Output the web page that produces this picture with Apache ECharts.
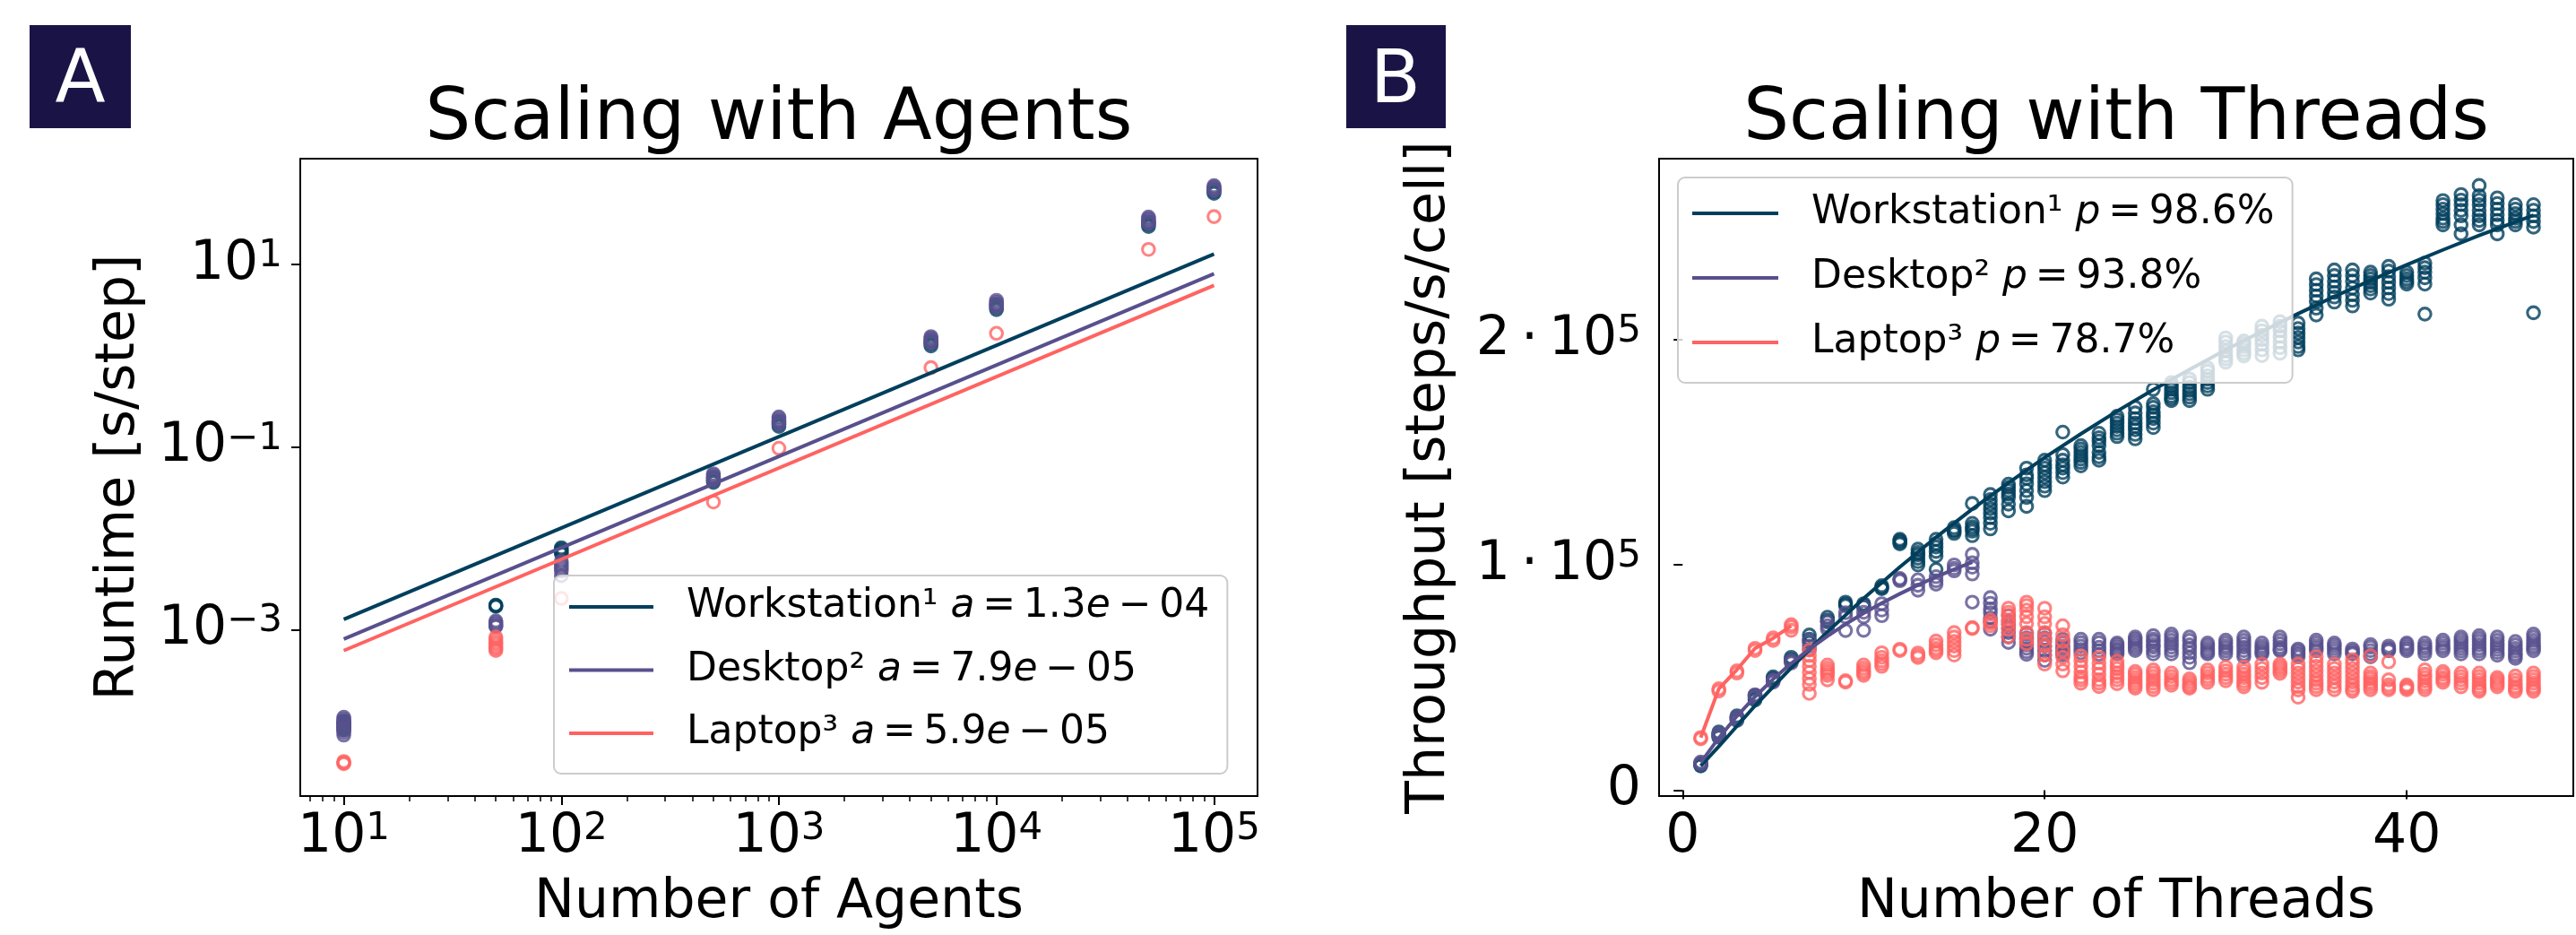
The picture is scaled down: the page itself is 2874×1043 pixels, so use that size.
<!DOCTYPE html>
<html><head><meta charset="utf-8">
<script src="https://cdn.jsdelivr.net/npm/echarts@6/dist/echarts.min.js"></script>
<style>html,body{margin:0;padding:0;background:#fff}#c{width:2874px;height:1043px}</style>
</head><body><div id="c"></div>
<script>
const FONT = "'DejaVu Sans', sans-serif";
const C_WS = '#003f5c', C_DT = '#58508d', C_LT = '#ff6361';

// ---------- Panel A: Scaling with Agents ----------
const agentCounts = [10, 50, 100, 500, 1000, 5000, 10000, 50000, 100000];
const runtimeWorkstation = [
  [1.0e-4, 9.5e-5, 9.0e-5, 8.5e-5, 8.0e-5], [1.86e-3, 1.83e-3, 1.8e-3], [7.9e-3, 7.6e-3, 7.3e-3, 7.0e-3, 6.8e-3],
  [0.046, 0.043, 0.041], [0.19, 0.178, 0.168], [1.45, 1.36, 1.28], [3.6, 3.4, 3.2], [29, 27.5, 26], [66, 63, 60]
];
const runtimeDesktop = [
  [1.1e-4, 1.05e-4, 1.0e-4, 9.5e-5, 9.0e-5, 8.5e-5, 8.0e-5, 7.5e-5, 7.0e-5], [1.25e-3, 1.2e-3, 1.15e-3, 1.1e-3, 1.08e-3],
  [5.6e-3, 5.3e-3, 5.0e-3, 4.7e-3, 4.4e-3, 3.9e-3], [0.051, 0.049, 0.047, 0.045, 0.043], [0.214, 0.205, 0.195, 0.186, 0.178],
  [1.62, 1.56, 1.5, 1.44, 1.38], [4.05, 3.85, 3.7, 3.55, 3.4], [33, 31.7, 30.5, 29.2, 28], [73, 70.5, 68, 66, 64]
];
const runtimeLaptop = [
  [3.6e-5, 3.5e-5, 3.4e-5], [8.3e-4, 7.8e-4, 7.3e-4, 6.9e-4, 6.5e-4, 6.2e-4, 5.9e-4], [2.2e-3], [0.025], [0.097],
  [0.74], [1.76], [14.6], [33.4]
];
const fitAgents = [10, 100000];
const fitRuntimeWorkstation = [0.0013, 13];
const fitRuntimeDesktop = [0.00079, 7.9];
const fitRuntimeLaptop = [0.00059, 5.9];
const agentMajorTicks = [10, 100, 1000, 10000, 100000];
const agentMinorTicks = [7, 8, 9, 20, 30, 40, 50, 60, 70, 80, 90, 200, 300, 400, 500, 600, 700, 800, 900,
  2000, 3000, 4000, 5000, 6000, 7000, 8000, 9000, 20000, 30000, 40000, 50000, 60000, 70000, 80000, 90000];
const runtimeTicks = [0.001, 0.1, 10];
const legendA = {
  'WS_A': 'Workstation¹ {i|a}\u2009=\u20091.3{i|e}\u2009−\u200904',
  'DT_A': 'Desktop² {i|a}\u2009=\u20097.9{i|e}\u2009−\u200905',
  'LT_A': 'Laptop³ {i|a}\u2009=\u20095.9{i|e}\u2009−\u200905'
};

// ---------- Panel B: Scaling with Threads ----------
const threadCounts = [1,2,3,4,5,6,7,8,9,10,11,12,13,14,15,16,17,18,19,20,21,22,23,24,25,26,27,28,29,30,
  31,32,33,34,35,36,37,38,39,40,41,42,43,44,45,46,47];
const throughputWorkstation = [
  [11800, 11200, 10800], [25800, 24500, 23500], [33000, 32000, 31000], [42000, 41000, 40000],
  [50300, 49500, 49000], [59000, 58000, 57500], [68900, 67000, 65600], [76800, 75500, 74800],
  [83500, 82700, 82000], [82800, 82000, 81500], [90800, 90000, 89500],
  [111400, 110800, 110000, 109400],
  [107000, 105500, 104500, 103000, 101500, 100000],
  [111400, 109500, 108000, 106000, 104000, 98000],
  [116600, 115500, 115000, 114000],
  [127300, 118500, 117000, 116000, 115000, 113000],
  [131300, 129000, 127000, 125000, 123000, 121000, 118500, 116000],
  [135900, 134500, 133000, 131500, 130000, 127000, 124000],
  [143000, 140000, 138500, 136000, 133000, 130000, 126000],
  [146500, 144500, 143000, 141000, 139000, 137000, 135000, 133000],
  [159000, 149000, 146500, 144500, 143000, 141000, 139000],
  [153000, 151500, 150000, 148500, 147000, 145500, 144000],
  [158500, 156500, 155000, 153000, 150000, 148000, 146500],
  [166000, 164500, 163000, 161500, 160000, 158500, 157000],
  [170000, 167500, 165000, 163000, 161500, 160000, 158000, 156000],
  [178000, 171600, 170000, 168000, 166500, 165000, 163000, 161000],
  [181000, 179500, 178000, 176500, 175000, 174000, 173000],
  [182600, 181000, 179000, 177500, 176000, 174500, 173000],
  [187500, 186000, 184000, 182500, 181000, 179500, 178000],
  [200800, 199000, 197000, 195000, 193000, 191500, 190000],
  [199500, 198300, 197000, 195500, 194000, 192800],
  [206000, 204000, 202000, 200000, 198000, 195500, 193000],
  [208000, 206000, 204000, 201500, 199000, 196500, 194000],
  [207400, 205000, 203000, 201000, 199000, 197000, 195500],
  [227000, 224500, 222000, 219500, 217000, 214000, 211000],
  [231000, 228500, 226000, 223500, 221000, 219000, 216700],
  [231000, 228500, 226000, 223000, 220000, 217500, 215000],
  [230000, 228500, 227000, 225500, 224000, 222500, 220700],
  [232600, 230500, 228000, 225500, 223000, 220500, 218000],
  [230000, 228500, 227000, 225800, 224700],
  [234000, 232000, 230000, 227500, 224700, 211400],
  [261800, 260000, 258000, 256000, 254000, 252500, 251000],
  [264500, 262000, 260000, 257500, 255000, 251000, 247000],
  [268500, 264000, 262000, 260000, 257500, 255000, 253000, 251000],
  [263000, 260500, 258000, 255500, 253000, 251000, 247000],
  [260000, 258000, 256000, 254000, 252500, 251000],
  [260000, 257500, 255000, 252500, 250000, 212000]
];
const throughputDesktop = [
  [12500, 12000, 11500], [25000, 24500, 24000], [32400, 32000, 31500], [42400, 42000, 41500], [49000, 48500, 48000],
  [57600, 57000, 56500], [66500, 64000, 62500], [74800, 73000, 71500], [78800, 77000, 70900],
  [81500, 79000, 77000, 71000], [82800, 80000, 77500], [94000, 93500, 93000], [93400, 91000, 88800],
  [94800, 93000, 91500], [100000, 98500, 97400], [104700, 101000, 99000, 96000, 83500],
  [85500, 83000, 80500, 78800, 76500, 74900, 71500],
  [77500, 75000, 73500, 72000, 70000, 68000, 65600],
  [69600, 67500, 66000, 64500, 63000, 61500, 60300],
  [69600, 67500, 66000, 64000, 62000, 60000, 57600],
  [67000, 65500, 64000, 63000, 62000, 61000, 60000],
  [67000, 65500, 64000, 62500, 61000],
  [67000, 65500, 63500, 62000, 60300],
  [65300, 64500, 63500, 62500, 62000, 61000, 60500],
  [68000, 67000, 66000, 65000, 64000, 63000, 62000],
  [68600, 67000, 66000, 64500, 63500, 62000, 60500],
  [69300, 68000, 66500, 65000, 63500, 62000, 60500],
  [68000, 66500, 64500, 63000, 61000, 59000, 56600],
  [65300, 64200, 63000, 62000, 61200, 60500],
  [66600, 65300, 64000, 63000, 61800, 60500],
  [68000, 66500, 65000, 63500, 62000, 60500, 59200],
  [65300, 64000, 63000, 62000, 61200, 60500],
  [68000, 66500, 65000, 63500, 62500, 61900],
  [62700, 62000, 61000, 60200, 59200],
  [66600, 65300, 64000, 63000, 61900],
  [65300, 64200, 63000, 61800, 60500],
  [62700, 61800, 61000, 60500],
  [64600, 63500, 62000, 60500, 59200],
  [64000, 63000, 62500, 61900],
  [65300, 64500, 63500, 62700, 61900],
  [65300, 64000, 63000, 61800, 60500],
  [66600, 65300, 64000, 63000, 61900],
  [68000, 66800, 65500, 64200, 63000, 61800, 60500],
  [68600, 67300, 66000, 64500, 63000, 61800, 60500],
  [68000, 66500, 65000, 63800, 62500, 61200, 59900],
  [66000, 64500, 63000, 61800, 60500, 59500, 58500],
  [69300, 68000, 66500, 65200, 64000, 63000, 61900]
];
const throughputLaptop = [
  [23400, 22800], [45000, 44000], [53000, 52000], [63000, 62000], [67600, 66500],
  [73500, 72500, 71000],
  [62200, 59800, 57600, 55000, 52300, 49500, 47000, 43000],
  [55600, 54200, 53000, 52000, 51000, 49000],
  [48600, 48000],
  [55600, 54200, 53000, 52000, 51000],
  [61000, 59000, 57500, 56200, 55000],
  [62600, 62000],
  [60900, 59800, 58900],
  [66200, 64500, 63000, 62000, 61000],
  [70000, 68000, 66000, 64000, 62000, 60000],
  [72200, 71800],
  [75500, 74200, 73000],
  [80800, 79000, 77500, 75500, 74000, 71500, 68200],
  [83500, 82000, 80000, 77000, 74000, 70000, 67000, 65000],
  [80800, 77000, 74000, 70000, 67000, 64000, 60000, 56000],
  [73000, 69000, 66000, 62000, 59000, 56000, 53000],
  [59600, 57500, 55000, 52500, 50300, 49000, 47500],
  [59000, 56500, 54000, 51500, 49000, 47500, 46000],
  [57300, 55500, 54000, 52000, 50500, 49000, 47300],
  [52700, 51500, 50000, 48700, 47500, 46300, 45300],
  [53400, 52000, 50500, 49000, 47500, 46000, 44600],
  [52000, 50500, 49000, 47800, 46600],
  [49400, 48200, 47000, 46000, 45300],
  [53400, 52000, 50500, 49200, 47900],
  [54700, 53000, 51500, 50000, 48600],
  [54700, 53000, 51500, 50000, 48500, 47200, 45900],
  [56000, 54000, 52000, 50000, 47900],
  [56000, 55000, 54000, 53000, 51900],
  [56000, 54000, 52000, 50000, 48000, 46000, 44500, 41300],
  [59300, 57000, 55000, 53000, 51000, 49000, 47500, 46000, 44600],
  [56000, 54000, 52000, 50000, 48000, 46200, 44600],
  [58000, 56000, 54000, 52000, 50000, 48000, 46500, 45000, 43900],
  [59600, 52000, 50500, 49400, 48000, 47000, 45800, 44600],
  [57000, 49000, 46700, 45500, 44600],
  [46700, 46000, 45300, 44600],
  [53400, 51500, 50000, 48500, 47000, 45800, 44600],
  [52700, 51500, 50000, 49000, 47900],
  [52000, 50500, 49000, 47500, 45900],
  [52000, 50500, 49000, 47500, 46000, 44800, 43900],
  [50000, 49000, 47900, 47000, 45900],
  [50700, 49000, 47500, 46000, 45000, 43900],
  [52000, 50500, 49000, 47500, 46000, 45000, 43900]
];
const fitThreadsWorkstation = [1, 2, 4, 6, 8, 10, 12, 14, 16, 18, 20, 22, 24, 26, 28, 30, 32, 34, 36, 38, 40, 42, 44, 47];
const fitThroughputWorkstation = [10800, 19400, 37500, 54400, 70300, 85200, 99100, 112300, 124800, 136500, 147700,
  158200, 168300, 177800, 186800, 195500, 203700, 211600, 219200, 226300, 233300, 239900, 246300, 255300];
const fitThreadsDesktop = [1, 2, 3, 4, 5, 6, 7, 8, 9, 10, 11, 12, 13, 14, 15, 16];
const fitThroughputDesktop = [12300, 23200, 32900, 41500, 49300, 56300, 62600, 68400, 73700, 78600, 83100,
  87200, 91100, 94700, 98100, 101200];
const fitThreadsLaptop = [1, 2, 3, 4, 5, 6];
const fitThroughputLaptop = [23400, 45000, 53500, 63000, 67500, 73000];
const throughputTicks = [0, 100000, 200000];
const threadTicks = [0, 20, 40];
const legendB = {
  'WS_B': 'Workstation¹ {i|p}\u2009=\u200998.6%',
  'DT_B': 'Desktop² {i|p}\u2009=\u200993.8%',
  'LT_B': 'Laptop³ {i|p}\u2009=\u200978.7%'
};

// ---------- helpers ----------
function runsToPoints(xs, runs) {
  const pts = [];
  xs.forEach((x, i) => runs[i].forEach(v => pts.push([x, v])));
  return pts;
}
function pairs(xs, ys) { return xs.map((x, i) => [x, ys[i]]); }
function scatter(name, xi, yi, data, color) {
  return { type: 'scatter', name, xAxisIndex: xi, yAxisIndex: yi, data, symbol: 'circle', symbolSize: 13.5,
    itemStyle: { color: 'rgba(0,0,0,0)', borderColor: color, borderWidth: 3.1 }, z: 2, silent: true };
}
function line(name, xi, yi, data, color) {
  return { type: 'line', name, xAxisIndex: xi, yAxisIndex: yi, data, symbol: 'none', color,
    itemStyle: { color }, lineStyle: { color, width: 4 }, z: 3, silent: true };
}
const supRich = {
  b: { fontFamily: FONT, fontSize: 60, lineHeight: 60, color: '#000' },
  s: { fontFamily: FONT, fontSize: 42, lineHeight: 25, verticalAlign: 'top', color: '#000' }
};
const nameStyle = { fontFamily: FONT, fontSize: 60, color: '#000', lineHeight: 60 };
const tickLine = { color: '#000', width: 2 };
function powLabel(v) {
  const e = Math.round(Math.log10(v));
  return '{b|10}{s|' + (e < 0 ? '−' + (-e) : String(e)) + '}';
}
function sciLabel(v) {
  if (v === 0) return '{b|0}';
  const m = Math.round(v / 100000);
  return '{b|' + m + '\u2009·\u200910}{s|5}';
}
const legendText = { fontFamily: FONT, fontSize: 44, color: '#000', lineHeight: 52,
  rich: { i: { fontFamily: FONT, fontSize: 44, fontStyle: 'italic', color: '#000', lineHeight: 52 },
          g: { width: 32 } } };
function legendItems(names) { return names.map(n => ({ name: n, icon: 'rect' })); }

const option = {
  animation: false,
  backgroundColor: '#fff',
  title: [
    { text: 'Scaling with Agents', left: 869, top: 94, textAlign: 'center', padding: 0,
      textStyle: { fontFamily: FONT, fontSize: 80, fontWeight: 'normal', color: '#000', lineHeight: 80 } },
    { text: 'Scaling with Threads', left: 2361, top: 94, textAlign: 'center', padding: 0,
      textStyle: { fontFamily: FONT, fontSize: 80, fontWeight: 'normal', color: '#000', lineHeight: 80 } }
  ],
  graphic: [
    { type: 'rect', shape: { x: 33, y: 28, width: 113, height: 115 }, style: { fill: '#1a1446' } },
    { type: 'text', x: 89.5, y: 92, style: { text: 'A', fill: '#fff', fontFamily: FONT, fontSize: 82, align: 'center', verticalAlign: 'middle' } },
    { type: 'rect', shape: { x: 1502, y: 28, width: 111, height: 115 }, style: { fill: '#1a1446' } },
    { type: 'text', x: 1557, y: 93, style: { text: 'B', fill: '#fff', fontFamily: FONT, fontSize: 82, align: 'center', verticalAlign: 'middle' } }
  ],
  grid: [
    { left: 335, top: 177, width: 1068, height: 711, show: true, borderColor: '#000', borderWidth: 2, backgroundColor: 'transparent' },
    { left: 1851, top: 177, width: 1020, height: 711, show: true, borderColor: '#000', borderWidth: 2, backgroundColor: 'transparent' }
  ],
  xAxis: [
    { gridIndex: 0, type: 'log', logBase: 10, min: 6.3096, max: 158489, position: 'bottom',
      axisLine: { show: false }, splitLine: { show: false }, minorTick: { show: false },
      axisTick: { show: true, customValues: agentMajorTicks, length: 10, lineStyle: tickLine },
      axisLabel: { customValues: agentMajorTicks, formatter: powLabel, rich: supRich, margin: 16 },
      name: 'Number of Agents', nameLocation: 'middle', nameGap: 89, nameTextStyle: nameStyle },
    { gridIndex: 0, type: 'log', logBase: 10, min: 6.3096, max: 158489, position: 'bottom',
      axisLine: { show: false }, splitLine: { show: false }, axisLabel: { show: false },
      axisTick: { show: true, customValues: agentMinorTicks, length: 6, lineStyle: { color: '#000', width: 1.5 } } },
    { gridIndex: 1, type: 'value', min: -1.3, max: 49.2, position: 'bottom',
      axisLine: { show: false }, splitLine: { show: false },
      axisTick: { show: true, customValues: threadTicks, length: 10, lineStyle: tickLine },
      axisLabel: { customValues: threadTicks, fontFamily: FONT, fontSize: 60, color: '#000', lineHeight: 60, margin: 16 },
      name: 'Number of Threads', nameLocation: 'middle', nameGap: 89, nameTextStyle: nameStyle }
  ],
  yAxis: [
    { gridIndex: 0, type: 'log', logBase: 10, min: 1.506e-5, max: 143.9, position: 'left',
      axisLine: { show: false }, splitLine: { show: false },
      axisTick: { show: true, customValues: runtimeTicks, length: 10, lineStyle: tickLine },
      axisLabel: { customValues: runtimeTicks, formatter: powLabel, rich: supRich, margin: 20 },
      name: 'Runtime [s/step]', nameLocation: 'middle', nameGap: 172, nameTextStyle: nameStyle },
    { gridIndex: 1, type: 'value', min: -2600, max: 280400, position: 'left',
      axisLine: { show: false }, splitLine: { show: false },
      axisTick: { show: true, customValues: throughputTicks, length: 10, lineStyle: tickLine },
      axisLabel: { customValues: throughputTicks, formatter: sciLabel, rich: supRich, margin: 20 },
      name: 'Throughput [steps/s/cell]', nameLocation: 'middle', nameGap: 226, nameTextStyle: nameStyle }
  ],
  legend: [
    { data: legendItems(['WS_A', 'DT_A', 'LT_A']), orient: 'vertical', left: 618, top: 642,
      itemWidth: 94, itemHeight: 4, itemGap: 18.5, padding: [9, 20, 19, 17],
      backgroundColor: 'rgba(255,255,255,0.8)', borderColor: '#cccccc', borderWidth: 2, borderRadius: 8,
      formatter: n => '{g|}' + legendA[n], textStyle: legendText, selectedMode: false },
    { data: legendItems(['WS_B', 'DT_B', 'LT_B']), orient: 'vertical', left: 1872, top: 198,
      itemWidth: 96, itemHeight: 4, itemGap: 20, padding: [14, 20, 19, 16],
      backgroundColor: 'rgba(255,255,255,0.8)', borderColor: '#cccccc', borderWidth: 2, borderRadius: 8,
      formatter: n => '{g|}' + legendB[n], textStyle: legendText, selectedMode: false }
  ],
  series: [
    scatter('ws_pts_A', 0, 0, runsToPoints(agentCounts, runtimeWorkstation), C_WS),
    line('WS_A', 0, 0, pairs(fitAgents, fitRuntimeWorkstation), C_WS),
    scatter('dt_pts_A', 0, 0, runsToPoints(agentCounts, runtimeDesktop), C_DT),
    line('DT_A', 0, 0, pairs(fitAgents, fitRuntimeDesktop), C_DT),
    scatter('lt_pts_A', 0, 0, runsToPoints(agentCounts, runtimeLaptop), C_LT),
    line('LT_A', 0, 0, pairs(fitAgents, fitRuntimeLaptop), C_LT),

    scatter('ws_pts_B', 2, 1, runsToPoints(threadCounts, throughputWorkstation), C_WS),
    line('WS_B', 2, 1, pairs(fitThreadsWorkstation, fitThroughputWorkstation), C_WS),
    scatter('dt_pts_B', 2, 1, runsToPoints(threadCounts, throughputDesktop), C_DT),
    line('DT_B', 2, 1, pairs(fitThreadsDesktop, fitThroughputDesktop), C_DT),
    scatter('lt_pts_B', 2, 1, runsToPoints(threadCounts, throughputLaptop), C_LT),
    line('LT_B', 2, 1, pairs(fitThreadsLaptop, fitThroughputLaptop), C_LT)
  ]
};
const chart = echarts.init(document.getElementById('c'), null, { renderer: 'canvas' });
chart.setOption(option);
</script>
</body></html>
